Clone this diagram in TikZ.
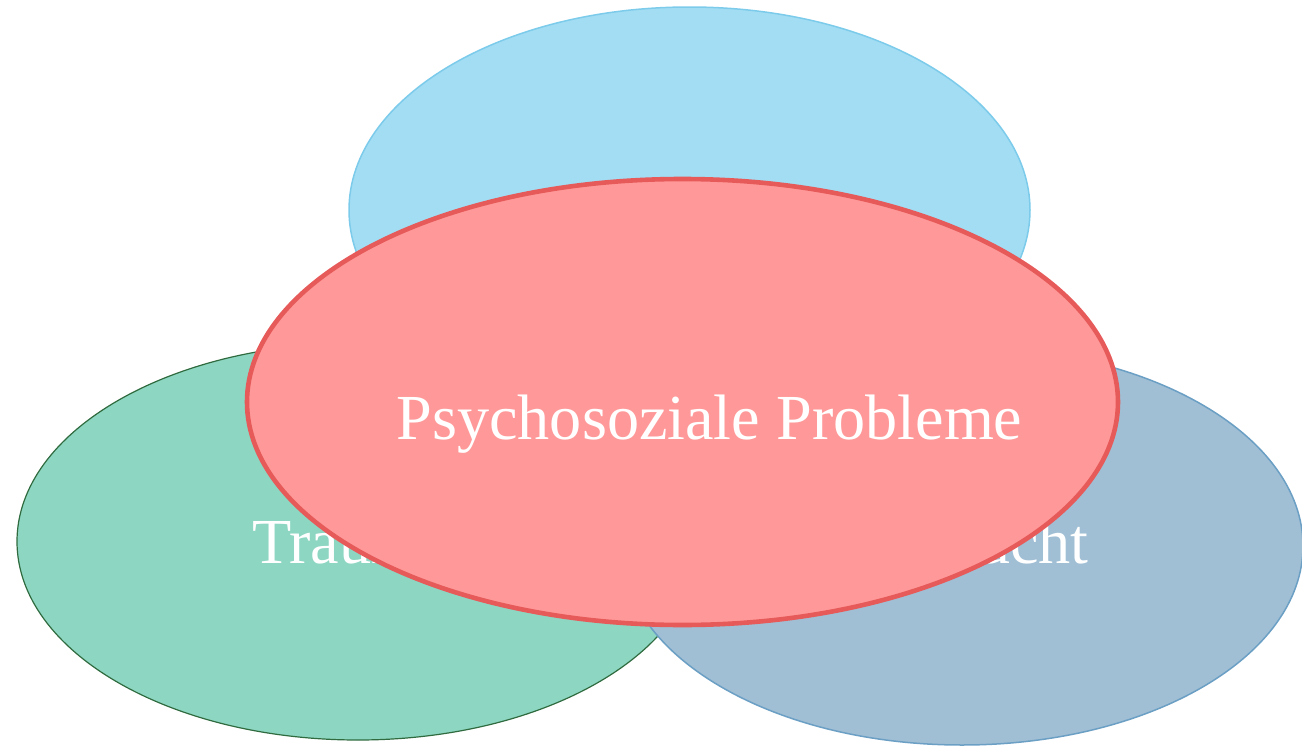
\documentclass[tikz,border=0pt]{standalone}
\usepackage{fontspec}
\setmainfont{Liberation Serif}
\usetikzlibrary{shapes.geometric}
\definecolor{topfill}{HTML}{A3DDF3}
\definecolor{topline}{HTML}{7CCBEB}
\definecolor{greenfill}{HTML}{8DD6C2}
\definecolor{greenline}{HTML}{2F6B3F}
\definecolor{rightfill}{HTML}{A0BFD5}
\definecolor{rightline}{HTML}{6B9FC4}
\definecolor{redfill}{HTML}{FF9999}
\definecolor{redline}{HTML}{E65A5A}
\begin{document}
\begin{tikzpicture}[x=1pt,y=-1pt,
  venn/.style={ellipse, inner sep=0pt},
  lbl/.style={text=white, inner sep=0pt, font=\fontsize{64.2}{70}\selectfont}]
\useasboundingbox (0,0) rectangle (1302,747);
\node[venn, fill=topfill, draw=topline, line width=1.5pt, minimum width=681pt, minimum height=406pt] (top) at (689.5,210) {};
\node[venn, fill=greenfill, draw=greenline, line width=1.2pt, minimum width=682pt, minimum height=397pt] (left) at (358,541.5) {};
\node[venn, fill=rightfill, draw=rightline, line width=1.5pt, minimum width=682pt, minimum height=398pt] (right) at (962,546) {};
\node[lbl, anchor=base west] (lefttxt) at (252,563) {Trauma};
\node[lbl, anchor=base east] (righttxt) at (1089,563) {Sucht};
\node[venn, fill=redfill, draw=redline, line width=4.6pt, minimum width=871pt, minimum height=446pt] (center) at (682.5,402) {};
\node[lbl, anchor=base] (centertxt) at (709.5,439) {Psychosoziale Probleme};
\end{tikzpicture}
\end{document}
